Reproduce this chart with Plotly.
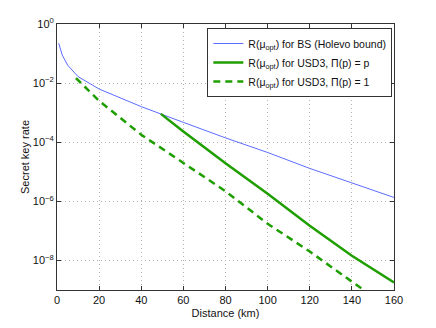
import plotly.graph_objects as go

# Holevo bound (BS)
bs_dist = [0.8, 1.5, 2.5, 5, 10, 20, 40, 60, 80, 100, 120, 140, 160]
bs_rate = [0.224, 0.141, 0.089, 0.041, 0.0166, 6.3e-3, 1.6e-3, 4.7e-4, 1.4e-4, 4.5e-5, 1.3e-5, 4.2e-6, 1.35e-6]

# USD3, Pi(p) = p
usd_p_dist = [49.3, 60, 80, 100, 120, 140, 160]
usd_p_rate = [9.1e-4, 2.3e-4, 1.95e-5, 1.8e-6, 1.5e-7, 1.45e-8, 1.8e-9]

# USD3, Pi(p) = 1
usd_1_dist = [9, 20, 40, 60, 80, 100, 120, 146]
usd_1_rate = [1.48e-2, 2.5e-3, 1.8e-4, 1.95e-5, 2.2e-6, 1.75e-7, 2.0e-8, 9.5e-10]

x_ticks = [0, 20, 40, 60, 80, 100, 120, 140, 160]
y_ticks = [1, 1e-2, 1e-4, 1e-6, 1e-8]
y_labels = ["10<sup>0</sup>", "10<sup>−2</sup>", "10<sup>−4</sup>", "10<sup>−6</sup>", "10<sup>−8</sup>"]

BLUE = "#5b6dff"
GREEN = "#1f9e00"
FRAME = "#333333"

fig = go.Figure()
fig.add_trace(go.Scatter(x=bs_dist, y=bs_rate, mode="lines",
                         name="R(μ<sub>opt</sub>) for BS (Holevo bound)",
                         line=dict(color=BLUE, width=1)))
fig.add_trace(go.Scatter(x=usd_p_dist, y=usd_p_rate, mode="lines",
                         name="R(μ<sub>opt</sub>) for USD3, Π(p) = p",
                         line=dict(color=GREEN, width=2.5)))
fig.add_trace(go.Scatter(x=usd_1_dist, y=usd_1_rate, mode="lines",
                         name="R(μ<sub>opt</sub>) for USD3, Π(p) = 1",
                         line=dict(color=GREEN, width=2.5, dash="7px,5px")))

axis_common = dict(showline=True, linecolor=FRAME, linewidth=1, mirror="ticks",
                   ticks="inside", ticklen=4, tickcolor=FRAME, automargin=False,
                   showgrid=True, gridcolor="#b4b4b4", griddash="1px,3px", gridwidth=1,
                   zeroline=False, tickfont=dict(size=11, color="#111"))

fig.update_layout(
    width=436, height=328,
    paper_bgcolor="white", plot_bgcolor="white",
    font=dict(family="Liberation Sans, Arial, sans-serif", color="#111"),
    margin=dict(l=57, r=42, t=24, b=38),
    xaxis=dict(range=[0, 160], tickvals=x_ticks,
               title=dict(text="Distance (km)", font=dict(size=11), standoff=4),
               **axis_common),
    yaxis=dict(type="log", range=[-9, 0], tickvals=y_ticks, ticktext=y_labels,
               title=dict(text="Secret key rate", font=dict(size=11), standoff=0),
               **axis_common),
    legend=dict(x=0.995, y=0.985, xanchor="right", yanchor="top",
                bgcolor="white", bordercolor=FRAME, borderwidth=1,
                font=dict(size=10.5), tracegroupgap=0, itemwidth=30),
)

# drop the default page margin so the figure sits at the window's corner
fig.write_html("out.html", config={"displayModeBar": False},
               post_script="document.body.style.margin='0';")
